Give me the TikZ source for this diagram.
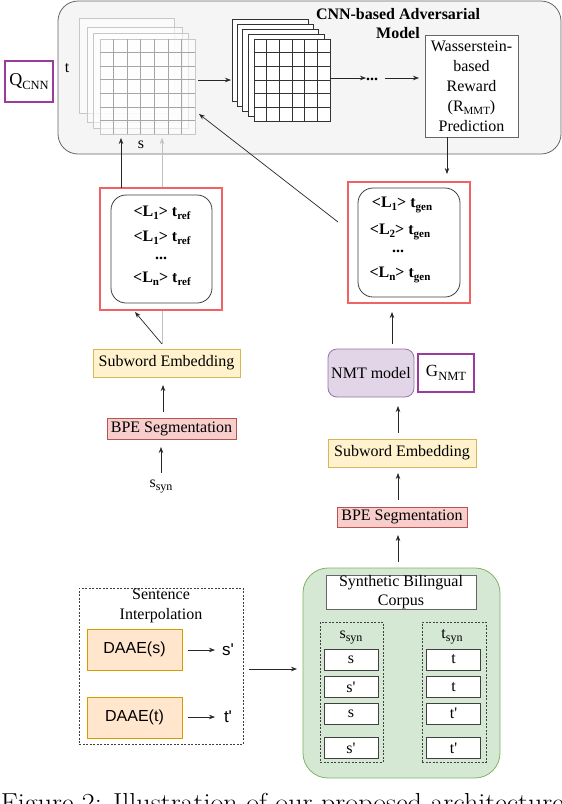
\documentclass[tikz,border=0pt]{standalone}
\usepackage{fontspec}
\usepackage{graphicx}
\newfontfamily\tnr{Liberation Serif}
\newfontfamily\arl{Liberation Sans}
\usetikzlibrary{arrows.meta,calc}
\newcommand\sbx[1]{\raisebox{-3pt}{\fontsize{11}{11}\selectfont #1}}
\newcommand\sby[1]{\raisebox{-3.5pt}{\fontsize{12}{12}\selectfont #1}}
\newcommand\sbq[1]{\raisebox{-3.5pt}{\fontsize{12.5}{12.5}\selectfont #1}}
\definecolor{purp}{HTML}{9A3C9E}
\definecolor{redb}{HTML}{F26262}
\definecolor{yfl}{HTML}{FFF2CC}\definecolor{ybd}{HTML}{D6B656}
\definecolor{rfl}{HTML}{F8CECC}\definecolor{rbd}{HTML}{B85450}
\definecolor{pfl}{HTML}{E1D5E7}\definecolor{pbd}{HTML}{9673A6}
\definecolor{ofl}{HTML}{FFE6CC}\definecolor{obd}{HTML}{D79B00}
\definecolor{gfl}{HTML}{D5E8D4}\definecolor{gbd}{HTML}{82B366}
\definecolor{cfl}{HTML}{F5F5F5}\definecolor{cbd}{HTML}{666666}
\begin{document}
\begin{tikzpicture}[x=1pt,y=-1pt,
  every node/.style={font=\tnr\fontsize{16}{19}\selectfont, inner sep=0pt, outer sep=0pt},
  sz/.style 2 args={minimum width=#1pt, minimum height=#2pt},
  arr/.style={draw=black!85, line width=0.7pt, -{Stealth[length=6pt,width=4.5pt]}},
  garr/.style={draw=black!25, line width=0.7pt, -{Stealth[length=6pt,width=4.5pt]}},
  bt/.style={font=\tnr\bfseries\fontsize{16}{19}\selectfont},
  fa/.style={draw=black!22, line width=0.7pt, fill=white, fill opacity=0.55, sz={95}{95}},
  fb/.style={draw=black!80, line width=0.8pt, fill=white, sz={76}{82}},
  yb/.style={draw=ybd, fill=yfl, line width=0.8pt},
  rb/.style={draw=rbd, fill=rfl, line width=0.8pt},
  redbox/.style={draw=redb, line width=1.5pt, fill=white},
  inbox/.style={draw=black!75, line width=0.8pt, fill=white, rounded corners=15pt},
  cell/.style={draw=black!75, line width=0.9pt, fill=white, sz={54}{21}},
  dbox/.style={draw=black!75, line width=0.7pt, dash pattern=on 2pt off 1.5pt}
]
\useasboundingbox (0,0) rectangle (562,804);

% ---------- CNN container ----------
\node[draw=cbd, fill=cfl, rounded corners=20pt, line width=0.8pt, sz={503}{153}] (cnn) at (309.5,77.5) {};
\node[bt, align=center, font=\tnr\bfseries\fontsize{16}{19}\selectfont] (title) at (398,24) {CNN-based Adversarial\\Model};
\node[draw=purp, line width=1.5pt, fill=white, sz={48}{41}, font=\tnr\fontsize{18}{20}\selectfont] (q) at (29,81.5) {Q\sbq{CNN}};
\node (tl) at (67,68) {t};
\node (sl) at (141,145) {s};

% first stack (input matrix)
\foreach \i/\x/\y in {1/79/18,2/87/27,3/93/33}
  \node[fa] (fa\i) at (\x+47.5,\y+47.5) {};
\node[fa] (g1) at (147.5,86.5) {};
\foreach \k in {1,...,6}{
  \draw[black!35, line width=0.6pt] ($(g1.north west)+(\k*95/7,0)$) -- ($(g1.south west)+(\k*95/7,0)$);
  \draw[black!35, line width=0.6pt] ($(g1.north west)+(0,\k*95/7)$) -- ($(g1.north east)+(0,\k*95/7)$);
}

% second stack (feature maps)
\foreach \i/\x/\y in {a/232/19,b/237/24,c/242/29,d/248/34}
  \node[fb] (fb\i) at (\x+38,\y+41) {};
\node[fb] (g2) at (292,80) {};
\foreach \k in {1,...,5}{
  \draw[black!80, line width=0.6pt] ($(g2.north west)+(\k*76/6,0)$) -- ($(g2.south west)+(\k*76/6,0)$);
  \draw[black!80, line width=0.6pt] ($(g2.north west)+(0,\k*82/6)$) -- ($(g2.north east)+(0,\k*82/6)$);
}

\node[bt] (dots) at (372,79) {...};
\node[draw=cbd, line width=0.7pt, fill=white, sz={93}{102}, align=center, font=\tnr\fontsize{16}{20}\selectfont] (wb) at (471.5,86) {Wasserstein-\\based\\Reward\\(R\sbx{MMT})\\Prediction};

% ---------- left column ----------
\node[yb, sz={147}{28}] (subL) at (166.5,363) {Subword Embedding};
\node[rb, sz={129}{21}] (bpeL) at (171.5,428.5) {BPE Segmentation};
\node[anchor=base] (ssyn) at (161,487) {s\sby{syn}};

\draw[garr] ($(subL.north)+(-4.5,-5)$) -- ($(g1.south)+(14.5,4)$);

\node[redbox, sz={122}{122}] (redL) at (161,249) {};
\node[inbox, sz={101}{108}] (inL) at (161.5,249) {};
\node[bt] (rl1) at (162,213) {<L\sbx{1}> t\sbx{ref}};
\node[bt] (rl2) at (162,238) {<L\sbx{1}> t\sbx{ref}};
\node[bt] (rl3) at (161,258) {...};
\node[bt] (rl4) at (162,279) {<L\sbx{n}> t\sbx{ref}};

% ---------- right column ----------
\node[redbox, sz={122}{121}] (redR) at (409,242.5) {};
\node[inbox, sz={102}{109}] (inR) at (409,242.5) {};
\node[bt] (gl1) at (402,205) {<L\sbx{1}> t\sbx{gen}};
\node[bt] (gl2) at (400,232) {<L\sbx{2}> t\sbx{gen}};
\node[bt] (gl3) at (398,251) {...};
\node[bt] (gl4) at (400,275) {<L\sbx{n}> t\sbx{gen}};

\node[draw=pbd, fill=pfl, line width=0.8pt, rounded corners=9pt, sz={86}{48}] (nmt) at (371,373) {NMT model};
\node[draw=purp, line width=1.5pt, fill=white, sz={56}{38}, font=\tnr\fontsize{17}{19}\selectfont] (gn) at (446,373) {G\sbq{NMT}};
\node[yb, sz={148}{28}] (subR) at (402,453) {Subword Embedding};
\node[rb, sz={130}{20}] (bpeR) at (402,517) {BPE Segmentation};

% ---------- bottom ----------
\node[dbox, sz={164}{156}] (interp) at (161,666) {};
\node[align=center, font=\tnr\fontsize{16}{20}\selectfont] (interpt) at (161,606) {Sentence\\Interpolation};
\node[draw=obd, fill=ofl, line width=0.8pt, sz={95}{41}, font=\arl\fontsize{16}{19}\selectfont] (daaes) at (134.5,649.5) {DAAE(s)};
\node[draw=obd, fill=ofl, line width=0.8pt, sz={95}{41}, font=\arl\fontsize{16}{19}\selectfont] (daaet) at (134.5,717.5) {DAAE(t)};
\node[font=\arl\fontsize{17}{19}\selectfont] (sp) at (228,650) {s\textquotesingle};
\node[font=\arl\fontsize{17}{19}\selectfont] (tp) at (228,717) {t\textquotesingle};

\node[draw=gbd, fill=gfl, line width=0.8pt, rounded corners=25pt, sz={197}{210}] (green) at (401.5,673) {};
\node[draw=cbd, line width=0.8pt, fill=white, sz={150}{34}, align=center, font=\tnr\fontsize{16}{19}\selectfont] (corp) at (401,592) {Synthetic Bilingual\\Corpus};
\node[dbox, sz={63}{140}] (sbox) at (351.5,692) {};
\node[dbox, sz={64}{140}] (tbox) at (454,692) {};
\node[anchor=base] (sslab) at (351,638) {s\sby{syn}};
\node[anchor=base] (tslab) at (452,638) {t\sby{syn}};
\node[cell] (c1) at (351,659.5) {s};
\node[cell] (c2) at (351,687) {s\textquotesingle};
\node[cell] (c3) at (351,713.5) {s};
\node[cell] (c4) at (351,748) {s\textquotesingle};
\node[cell] (d1) at (453.5,659.5) {t};
\node[cell] (d2) at (453.5,687) {t};
\node[cell] (d3) at (453.5,713.5) {t\textquotesingle};
\node[cell] (d4) at (453.5,748) {t\textquotesingle};

% caption (cut by the page edge)
\node[anchor=base west, font=\normalfont\fontsize{26}{30}\selectfont] (cap) at (1,811.5) {\scalebox{1.08}[1]{Figure 2: Illustration of our proposed architecture}};

% ---------- connectors ----------
\draw[arr] ($(redL.north)+(-40,0)$) -- ($(g1.south)+(-26.5,4)$);
\draw[arr] ($(subL.north)+(-4.5,-5)$) -- ($(redL.south)+(-26,2)$);
\draw[arr] ($(bpeL.north)+(-8.5,-6)$) -- ($(subL.south)+(-3.5,8)$);
\draw[arr] ($(ssyn.base)+(0,-14)$) -- ($(bpeL.south)+(-10.5,8)$);

\draw[arr] ($(g1.east)+(3,-6.5)$) -- ($(fba.west)+(-1,20)$);
\draw[arr] ($(g2.east)+(0,-2)$) -- ($(dots.center)+(-6,-1)$);
\draw[arr] ($(dots.center)+(13,-1)$) -- ($(wb.west)+(-6,-8)$);
\draw[arr] ($(wb.south)+(-24.5,0)$) -- ($(redR.north)+(38,-8)$);
\draw[arr] ($(redR.west)+(-10,-20.5)$) -- ($(g1.east)+(4,27.5)$);

\draw[arr] ($(nmt.north)+(21,-5)$) -- ($(redR.south)+(-17,9)$);
\draw[arr] ($(subR.north)+(-4,-6)$) -- ($(nmt.south)+(27,9)$);
\draw[arr] ($(bpeR.north)+(-4,-7)$) -- ($(subR.south)+(-4,6)$);
\draw[arr] ($(green.north)+(-3.5,-6)$) -- ($(bpeR.south)+(-4,8)$);

\draw[arr] ($(daaes.east)+(6,0.5)$) -- ($(sp.center)+(-13,0)$);
\draw[arr] ($(daaet.east)+(6,-0.5)$) -- ($(tp.center)+(-13,0)$);
\draw[arr] ($(interp.east)+(6,3)$) -- ($(green.west)+(-6,-4)$);
\end{tikzpicture}
\end{document}
